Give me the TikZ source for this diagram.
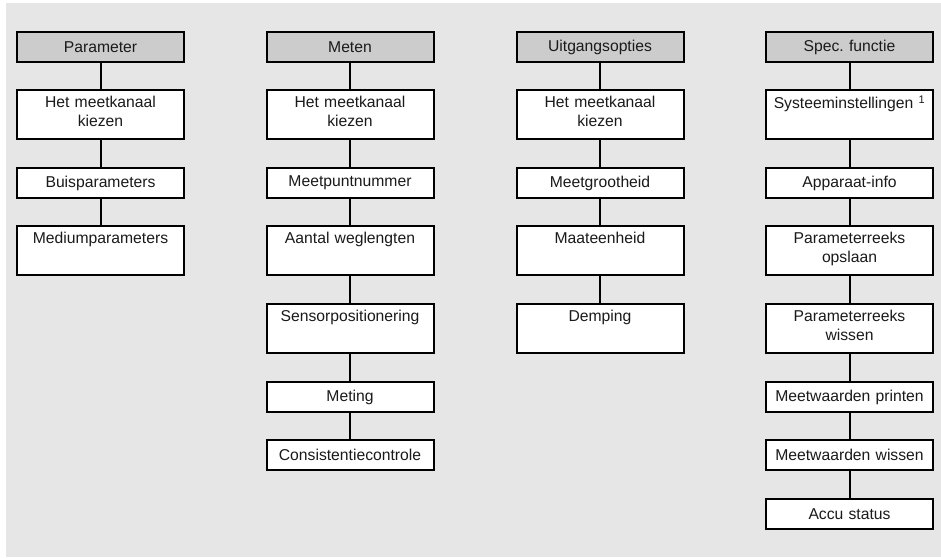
\documentclass[tikz,border=0pt]{standalone}
\usepackage{fontspec}
\setmainfont{Liberation Sans}
\frenchspacing
\definecolor{bggray}{HTML}{E6E6E6}
\definecolor{hdgray}{HTML}{CCCCCC}
\definecolor{txt}{HTML}{1A1A1A}
\begin{document}
\begin{tikzpicture}[x=1pt,y=-1pt,
  box/.style={draw=black, line width=2pt, fill=white, minimum width=167pt,
    inner sep=0pt, align=center, text=txt, text width=160pt,
    font=\fontsize{15.7}{19}\selectfont\frenchspacing},
  shortbox/.style={box, minimum height=30pt},
  tallbox/.style={box, minimum height=49pt},
  hdbox/.style={shortbox, fill=hdgray},
  link/.style={line width=2pt}]
\useasboundingbox (0,0) rectangle (941,557);
\fill[bggray] (6,3) rectangle (941,557);
% column 1
\node[hdbox]    (p0) at (100.5,47)    {Parameter};
\node[tallbox]  (p1) at (100.5,114.5) {Het meetkanaal\\kiezen\strut};
\node[shortbox] (p2) at (100.5,183)   {Buisparameters};
\node[tallbox]  (p3) at (100.5,250.5) {Mediumparameters\\\strut};
% column 2
\node[hdbox]    (m0) at (350,47)    {Meten};
\node[tallbox]  (m1) at (350,114.5) {Het meetkanaal\\kiezen\strut};
\node[shortbox] (m2) at (350,183)   {Meetpuntnummer};
\node[tallbox]  (m3) at (350,250.5) {Aantal weglengten\\\strut};
\node[tallbox]  (m4) at (350,328.5) {Sensorpositionering\\\strut};
\node[shortbox] (m5) at (350,397)   {Meting};
\node[shortbox] (m6) at (350,455)   {Consistentiecontrole};
% column 3
\node[hdbox]    (u0) at (600,47)    {Uitgangsopties};
\node[tallbox]  (u1) at (600,114.5) {Het meetkanaal\\kiezen\strut};
\node[shortbox] (u2) at (600,183)   {Meetgrootheid};
\node[tallbox]  (u3) at (600,250.5) {Maateenheid\\\strut};
\node[tallbox]  (u4) at (600,328.5) {Demping\\\strut};
% column 4
\node[hdbox]    (s0) at (849.5,47)    {Spec. functie};
\node[tallbox]  (s1) at (849.5,114.5) {Systeeminstellingen \textsuperscript{1}\\\strut};
\node[shortbox] (s2) at (849.5,183)   {Apparaat-info};
\node[tallbox]  (s3) at (849.5,250.5) {Parameterreeks\\opslaan\strut};
\node[tallbox]  (s4) at (849.5,328.5) {Parameterreeks\\wissen\strut};
\node[shortbox] (s5) at (849.5,397)   {Meetwaarden printen};
\node[shortbox] (s6) at (849.5,455)   {Meetwaarden wissen};
\node[shortbox] (s7) at (849.5,514)   {Accu status};
% connectors
\foreach \a/\b in {p0/p1,p1/p2,p2/p3,
  m0/m1,m1/m2,m2/m3,m3/m4,m4/m5,m5/m6,
  u0/u1,u1/u2,u2/u3,u3/u4,
  s0/s1,s1/s2,s2/s3,s3/s4,s4/s5,s5/s6,s6/s7}
  \draw[link] (\a.south) -- (\b.north);
\end{tikzpicture}
\end{document}
